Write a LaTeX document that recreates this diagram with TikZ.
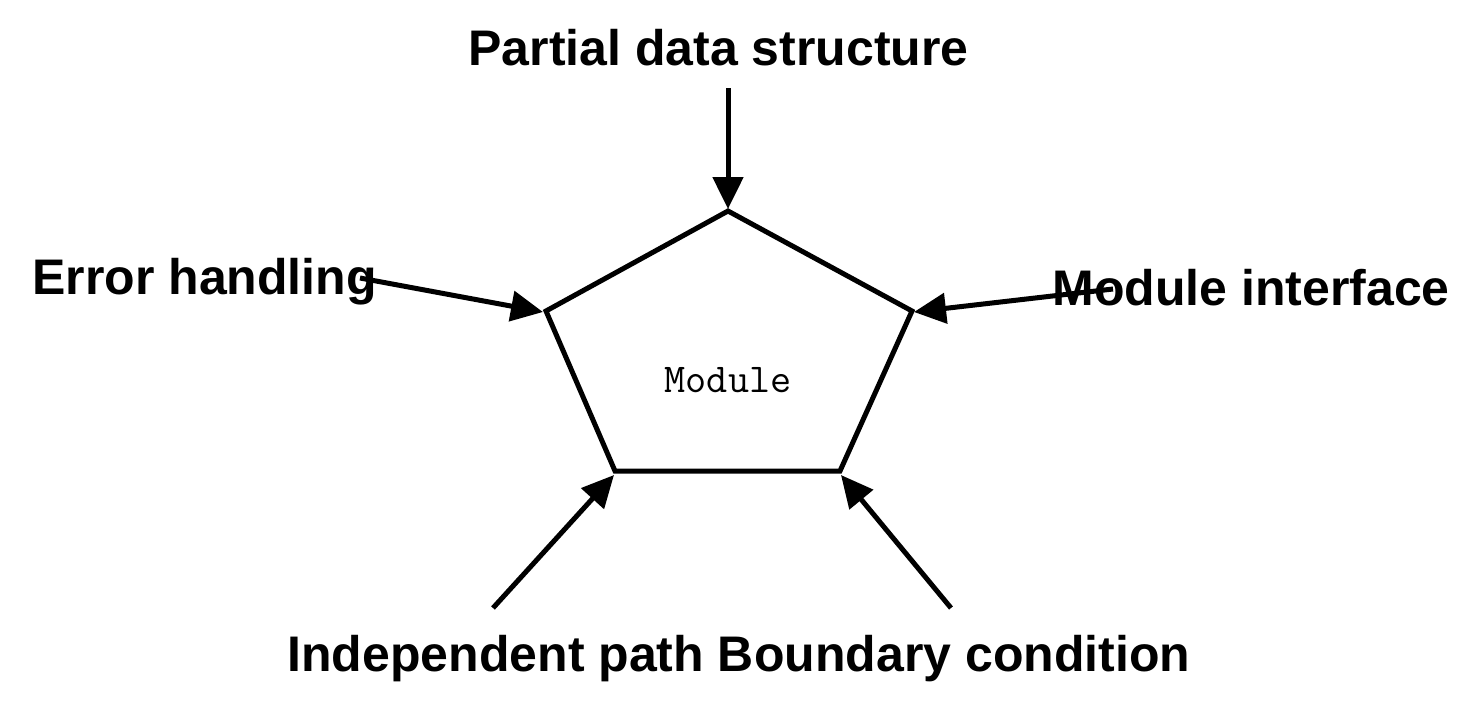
\documentclass[tikz,border=0pt]{standalone}
\usepackage{fontspec}
\setmainfont{Liberation Sans}
\usetikzlibrary{arrows.meta}
\begin{document}
\begin{tikzpicture}[x=0.5pt,y=-0.5pt,
  lbl/.style={font=\fontsize{25}{29}\selectfont\bfseries, inner sep=0pt, anchor=base west},
  edge/.style={line width=2.5pt, line join=miter},
  arr/.style={line width=2.5pt, -{Triangle[length=16pt,width=15pt]}}]
\useasboundingbox (0,0) rectangle (1478,713);
% pentagon
\coordinate (T) at (728,211);
\coordinate (R) at (912,311);
\coordinate (BR) at (840,471);
\coordinate (BL) at (615,471);
\coordinate (L) at (546,311);
\draw[edge] (T) -- (R) -- (BR) -- (BL) -- (L) -- cycle;
\node[font=\fontsize{20.5}{24}\ttfamily, inner sep=0pt, anchor=base] (mod) at (728,392) {Module};
% labels
\node[lbl] (pds) at (468,65) {Partial data structure};
\node[lbl] (err) at (32,294) {Error handling};
\node[lbl] (mi) at (1052,305) {Module interface};
\node[lbl] (ip) at (287,671) {Independent path Boundary condition};
% arrow starts and tips
\coordinate (s1) at (728,88);
\coordinate (t1) at (728,209);
\coordinate (s2) at (360,278);
\coordinate (t2) at (543,312);
\coordinate (s3) at (1113,289);
\coordinate (t3) at (914,312);
\coordinate (s4) at (493,608);
\coordinate (t4) at (614,475);
\coordinate (s5) at (951,608);
\coordinate (t5) at (841,475);
\draw[arr] (s1) -- (t1);
\draw[arr] (s2) -- (t2);
\draw[arr] (s3) -- (t3);
\draw[arr] (s4) -- (t4);
\draw[arr] (s5) -- (t5);
\end{tikzpicture}
\end{document}
